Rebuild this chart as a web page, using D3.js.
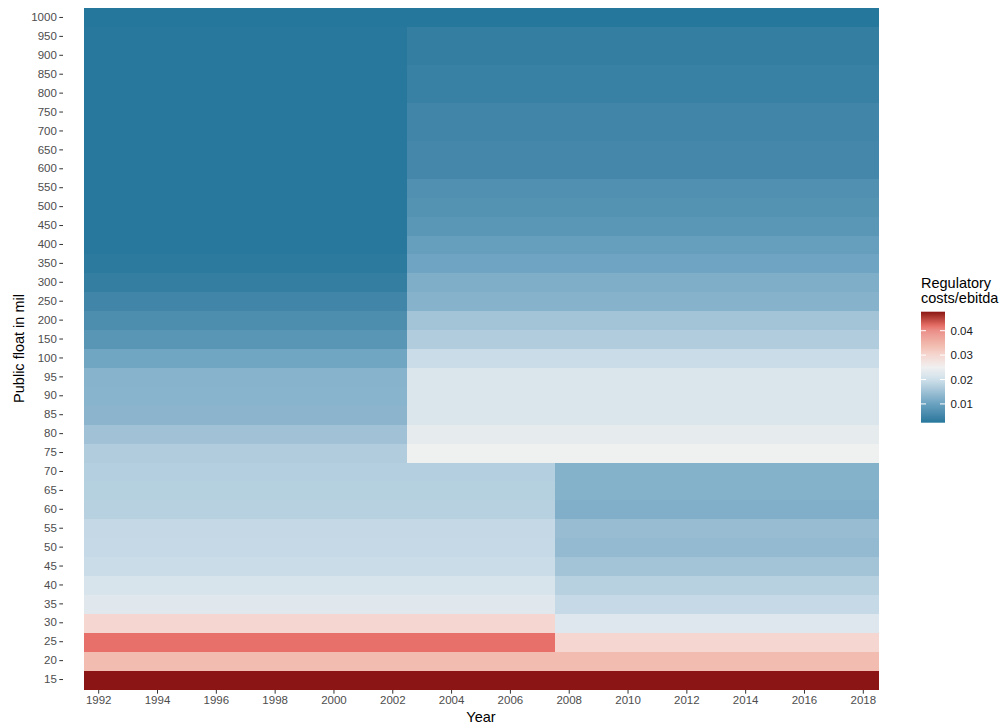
<!DOCTYPE html>
<html>
<head>
<meta charset="utf-8">
<script src="https://cdn.jsdelivr.net/npm/d3@7"></script>
<style>
  body { margin: 0; background: #fff; }
  svg { display: block; font-family: "Liberation Sans", Arial, sans-serif; }
  svg text { font-family: "Liberation Sans", Arial, sans-serif; }
</style>
</head>
<body>
<svg id="chart" width="1008" height="727"></svg>
<script>
// ---- Data ----
const years = d3.range(1992, 2019);
const floatLevels = [15,20,25,30,35,40,45,50,55,60,65,70,75,80,85,90,95,100,
  150,200,250,300,350,400,450,500,550,600,650,700,750,800,850,900,950,1000];
const xTickYears = [1992,1994,1996,1998,2000,2002,2004,2006,2008,2010,2012,2014,2016,2018];

// values per period, aligned with floatLevels (15 ... 1000)
const valuesEarly = [0.0478,0.034,0.042,0.030,0.0225,0.0213,0.0194,0.0190,0.0189,0.0176,0.0174,0.0173,
  0.0169,0.0153,0.0132,0.0130,0.0128,0.0106,
  0.0079,0.0064,0.0050,0.0036,0.0028,0.0024,0.0024,0.0024,0.0024,0.0024,0.0024,0.0024,0.0024,0.0024,0.0024,0.0024,0.0024,0.0023];
const valuesMiddle = [0.0478,0.034,0.042,0.030,0.0225,0.0213,0.0194,0.0190,0.0189,0.0176,0.0174,0.0173,
  0.0249,0.0234,0.0216,0.0216,0.0216,0.0194,
  0.0169,0.0155,0.0127,0.0119,0.0105,0.0095,0.0080,0.0073,0.0068,0.0053,0.0053,0.0050,0.0050,0.0041,0.0041,0.0036,0.0036,0.0023];
const valuesLate = [0.0478,0.034,0.030,0.0222,0.0190,0.0177,0.0155,0.0140,0.0144,0.0122,0.0126,0.0126,
  0.0249,0.0234,0.0216,0.0216,0.0216,0.0194,
  0.0169,0.0155,0.0127,0.0119,0.0105,0.0095,0.0080,0.0073,0.0068,0.0053,0.0053,0.0050,0.0050,0.0041,0.0041,0.0036,0.0036,0.0023];
const periodStarts = [1992, 2003, 2008];
const legendTicks = [0.01, 0.02, 0.03, 0.04];

// palette stops
const paletteValues = [0.0023,0.01,0.02,0.025,0.030,0.034,0.040,0.042,0.0478];
const paletteColors = ["#26779c","#6aa2c0","#cfe0ea","#f0f0f0","#f5d6d0","#f2bcb0","#ea8f8a","#e8706a","#8b1414"];

// ---- Build cells ----
function seriesFor(year) {
  if (year >= periodStarts[2]) return valuesLate;
  if (year >= periodStarts[1]) return valuesMiddle;
  return valuesEarly;
}
const cells = [];
years.forEach(yr => {
  const s = seriesFor(yr);
  floatLevels.forEach((f, i) => cells.push({year: yr, level: f, value: s[i]}));
});

// ---- Scales ----
const svg = d3.select("#chart");
const panel = {left: 84, right: 878, top: 8, bottom: 689};

const x = d3.scaleBand().domain(years).range([panel.left, panel.right]).padding(0);
const y = d3.scaleBand().domain(floatLevels.slice().reverse()).range([panel.top, panel.bottom]).padding(0);
const color = d3.scaleLinear().domain(paletteValues).range(paletteColors).interpolate(d3.interpolateLab);

// ---- Tiles ----
svg.append("g").selectAll("rect").data(cells).join("rect")
  .attr("x", d => x(d.year))
  .attr("y", d => y(d.level))
  .attr("width", x.bandwidth() + 0.5)
  .attr("height", y.bandwidth() + 0.5)
  .attr("fill", d => color(d.value))
  .attr("shape-rendering", "crispEdges");

// ---- Y axis ----
const yAxis = svg.append("g").attr("transform", "translate(63,0)")
  .call(d3.axisLeft(y).tickSize(3.7).tickPadding(2.5));
yAxis.attr("font-family", null).attr("font-size", null);
yAxis.select(".domain").remove();
yAxis.selectAll(".tick line").attr("stroke", "#333333");
yAxis.selectAll(".tick text").attr("fill", "#4d4d4d").style("font-size", "11.5px");

// ---- X axis ----
const xAxis = svg.append("g").attr("transform", "translate(0,690)")
  .call(d3.axisBottom(x).tickValues(xTickYears).tickSize(3.7).tickPadding(2.5));
xAxis.attr("font-family", null).attr("font-size", null);
xAxis.select(".domain").remove();
xAxis.selectAll(".tick line").attr("stroke", "#333333");
xAxis.selectAll(".tick text").attr("fill", "#4d4d4d").style("font-size", "11.5px");

// ---- Axis titles ----
svg.append("text")
  .attr("x", (panel.left + panel.right) / 2).attr("y", 722)
  .attr("text-anchor", "middle").style("font-size", "14.5px").attr("fill", "#000")
  .text("Year");
svg.append("text")
  .attr("transform", `translate(24,${(panel.top + panel.bottom) / 2}) rotate(-90)`)
  .attr("text-anchor", "middle").style("font-size", "14.5px").attr("fill", "#000")
  .text("Public float in mil");

// ---- Legend ----
const lg = {x: 921, y0: 311.7, y1: 422.7, w: 24};
const lScale = d3.scaleLinear().domain([paletteValues[0], paletteValues[paletteValues.length - 1]]).range([lg.y1, lg.y0]);
const defs = svg.append("defs");
const grad = defs.append("linearGradient").attr("id", "lgrad")
  .attr("x1", "0").attr("y1", "1").attr("x2", "0").attr("y2", "0");
const nStops = 60;
d3.range(nStops + 1).forEach(i => {
  const t = i / nStops;
  const v = lScale.domain()[0] + t * (lScale.domain()[1] - lScale.domain()[0]);
  grad.append("stop").attr("offset", t).attr("stop-color", color(v));
});
svg.append("rect").attr("x", lg.x).attr("y", lg.y0).attr("width", lg.w).attr("height", lg.y1 - lg.y0)
  .attr("fill", "url(#lgrad)");
const lt = svg.append("g");
legendTicks.forEach(v => {
  const yy = lScale(v);
  lt.append("line").attr("x1", lg.x).attr("x2", lg.x + 5).attr("y1", yy).attr("y2", yy)
    .attr("stroke", "#fff").attr("stroke-width", 1);
  lt.append("line").attr("x1", lg.x + lg.w - 5).attr("x2", lg.x + lg.w).attr("y1", yy).attr("y2", yy)
    .attr("stroke", "#fff").attr("stroke-width", 1);
  lt.append("text").attr("x", 950.5).attr("y", yy).attr("dy", "0.35em")
    .style("font-size", "11.5px").attr("fill", "#1a1a1a").text(d3.format(".2f")(v));
});
svg.append("text").attr("x", 921).attr("y", 288).style("font-size", "14.5px").attr("fill", "#000").text("Regulatory");
svg.append("text").attr("x", 921).attr("y", 303).style("font-size", "14.5px").attr("fill", "#000").text("costs/ebitda");
</script>
</body>
</html>
